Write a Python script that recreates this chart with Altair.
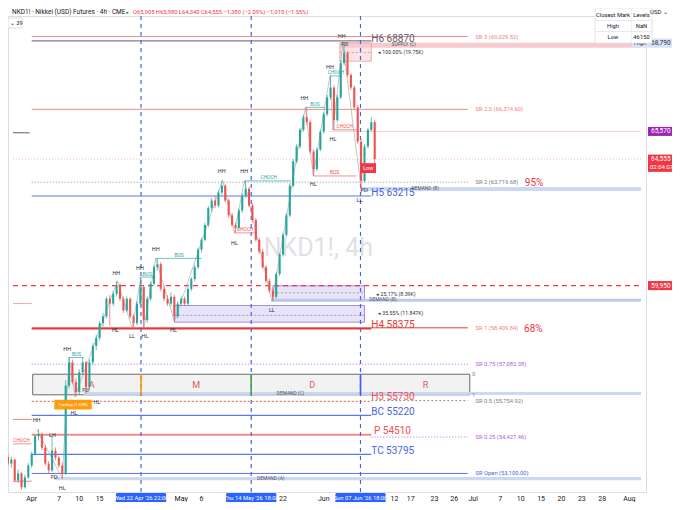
import altair as alt
import pandas as pd

# ---------------- candle data: NKD1! (condensed to 2 bars per trading day) ----------------
# x unit = trading days counted from Wed 1 Apr 2026 (weekends skipped like the chart's time scale)
bar_first_day = -3.5
bar_days_step = 0.5
opens = [53700, 53460, 53600, 52850, 53100, 52600, 52960, 53390, 53820, 54460,
         54530, 54040, 53460, 53210, 53930, 53680, 53390, 53100, 56300, 57150,
         56430, 56070, 56790, 57150, 56250, 57150, 57750, 58040, 58580, 58830,
         59470, 59290, 59650, 59970, 59470, 59040, 59470, 58830, 58580, 59290,
         59900, 58690, 59470, 60010, 60620, 60730, 59830, 59470, 59290, 59540,
         58830, 59290, 59470, 59290, 59830, 60190, 60620, 61260, 61620, 62160,
         62770, 63050, 62870, 63340, 63590, 63050, 62510, 62160, 62050, 62690,
         63230, 63480, 62870, 62340, 61620, 61190, 60620, 60120, 59760, 59540,
         60370, 61080, 61800, 62510, 63590, 64480, 65020, 65630, 66090, 65910,
         64840, 64200, 64910, 65560, 66200, 66810, 67170, 65980, 66810, 68060,
         68420, 67630, 67170, 66450, 65200, 63770, 65020, 65630, 65905]
highs = [53800, 53700, 53650, 53250, 53150, 53050, 53480, 53900, 54520, 54714,
         54600, 54150, 53550, 54460, 54050, 53750, 53500, 56500, 57330, 57250,
         56550, 56900, 57330, 57200, 57250, 57850, 58150, 58650, 58950, 59550,
         59600, 59750, 60120, 60050, 59550, 59560, 59520, 58900, 59380, 60260,
         59950, 59560, 60100, 60700, 60940, 60800, 59950, 59600, 59700, 59620,
         59380, 59560, 59550, 59900, 60260, 60700, 61330, 61700, 62250, 62850,
         63150, 63200, 63420, 63770, 63650, 63120, 62600, 62250, 62760, 63300,
         63770, 63550, 62950, 62420, 61700, 61280, 60700, 60200, 59850, 60450,
         61150, 61880, 62600, 63680, 64560, 65100, 65700, 66180, 66450, 66000,
         64920, 64980, 65640, 66280, 66900, 67600, 67250, 66900, 68150, 68790,
         68500, 67700, 67250, 66530, 65300, 65100, 65700, 66090, 65980]
lows = [53350, 53300, 52780, 52750, 52500, 52550, 52900, 53300, 53750, 54300,
        53950, 53380, 53100, 53150, 53580, 53300, 52900, 53050, 56200, 56350,
        55900, 55980, 56700, 56000, 56150, 57050, 57600, 57950, 58450, 58750,
        58500, 59200, 59550, 59380, 58950, 58980, 58750, 58400, 58500, 59200,
        58400, 58600, 59400, 59950, 60500, 59750, 59380, 59200, 59200, 58650,
        58750, 59200, 59200, 59220, 59750, 60100, 60550, 61150, 61550, 62080,
        62650, 62780, 62800, 63250, 62980, 62420, 62080, 61870, 61980, 62600,
        63150, 62800, 62250, 61550, 61100, 60550, 60050, 59680, 59370, 59480,
        60300, 61000, 61720, 62450, 63520, 64400, 64950, 65550, 65800, 64760,
        63950, 64120, 64850, 65480, 66120, 66720, 65630, 65900, 66750, 67980,
        67550, 67080, 66380, 65120, 63300, 63700, 64950, 65550, 64340]
closes = [53460, 53600, 52850, 53100, 52600, 52960, 53390, 53820, 54460, 54530,
          54040, 53460, 53210, 53930, 53680, 53390, 53100, 56300, 57150, 56430,
          56070, 56790, 57150, 56250, 57150, 57750, 58040, 58580, 58830, 59470,
          59290, 59650, 59970, 59470, 59040, 59470, 58830, 58580, 59290, 59900,
          58690, 59470, 60010, 60620, 60730, 59830, 59470, 59290, 59540, 58830,
          59290, 59470, 59290, 59830, 60190, 60620, 61260, 61620, 62160, 62770,
          63050, 62870, 63340, 63590, 63050, 62510, 62160, 62050, 62690, 63230,
          63480, 62870, 62340, 61620, 61190, 60620, 60120, 59760, 59540, 60370,
          61080, 61800, 62510, 63590, 64480, 65020, 65630, 66090, 65910, 64840,
          64200, 64910, 65560, 66200, 66810, 67170, 65980, 66810, 68060, 68420,
          67630, 67170, 66450, 65200, 63770, 65020, 65630, 65905, 64555]

# ---------------- time axis ----------------
tick_days = [0, 4, 7, 10, 22, 25, 37, 43, 53.4, 55.8, 59.3, 62.2, 65, 69, 72, 75, 78, 81, 84, 88]
tick_labels = ['Apr', '7', '10', '15', 'May', '6', '22', 'Jun', '12', '17', '23', '26',
               'Jul', '7', '10', '15', '20', '23', '28', 'Aug']
marker_days = [16.09, 32.32, 48.41]
marker_labels = ["Wed 22 Apr '26   22:00", "Thu 14 May '26   18:00", "Sun 07 Jun '26   18:00"]

# ---------------- market structure ----------------
swing_days = [0.72, 4.49, 5.51, 6.38, 12.61, 14.78, 16.09, 16.52, 18.26, 21.01,
              28.12, 29.86, 31.3, 35.36, 40.29, 41.45, 43.91, 44.35, 45.8, 48.55]
swing_prices = [54714, 52925, 57326, 55895, 60117, 58400, 60260, 58400, 60940, 58650,
                63802, 61870, 63767, 59366, 66450, 63946, 67595, 65627, 68776, 63409]
struct_labels = ['HH', 'LH', 'HL', 'HH', 'HL', 'HL', 'HH', 'HL', 'LL', 'HH', 'HL', 'HH', 'HL',
                 'HH', 'HL', 'HH', 'LL', 'HH', 'HL', 'HH', 'HL', 'HH', 'LL']
struct_days = [0.72, 3.04, 4.49, 5.22, 6.23, 9.6, 12.46, 12.32, 14.78, 15.94, 16.67, 18.26, 20.87,
               27.97, 29.86, 31.3, 35.36, 40.14, 41.45, 43.91, 44.35, 45.65, 48.26]
struct_prices = [55036, 54500, 52568, 57648, 55300, 55720, 60404, 58328, 58113, 60582, 58113, 61298, 58328,
                 64124, 61513, 64124, 59044, 66772, 63659, 67917, 65305, 69062, 63087]
brk_labels = ['CHOCH', 'BOS', 'BOS', 'BOS', 'CHOCH', 'CHOCH', 'BOS', 'CHOCH', 'CHOCH', 'BOS']
brk_start = [-2.754, 5.51, 16.09, 18.26, 29.86, 31.3, 40.29, 43.91, 44.35, 41.45]
brk_end = [0.0, 7.68, 18.26, 25.07, 33.04, 38.12, 43.2, 45.4, 48.0, 47.8]
brk_prices = [54178, 57326, 60260, 60940, 61870, 63767, 66450, 67595, 65627, 63946]
brk_label_days = [-1.5, 6.6, 17.0, 21.7, 31.4, 34.9, 41.7, 44.8, 46.1, 44.6]
brk_bull = [False, True, True, True, False, True, True, True, False, False]

# ---------------- levels ----------------
levels = {'SR 3': 69029.52, 'H6': 68870, 'SR 2.5': 66374.60, 'SR 2': 63719.68, 'H5': 63215,
          'SR 1': 58409.84, 'H4': 58375, 'SR 0.75': 57082.38, 'H3': 55730, 'SR 0.5': 55754.92,
          'BC': 55220, 'P': 54510, 'SR 0.25': 54427.46, 'TC': 53795, 'SR Open': 53100}
last_price = 64555
indicator_price = 65570
alert_price = 59950
high_mark = 68790

# ---------------- scales ----------------
X0, X1 = -2.754, 89.71
P_LO, P_HI = 52424, 69778
W, H = 638, 476
xs = alt.Scale(domain=[X0, X1], nice=False, zero=False)
ys = alt.Scale(domain=[P_LO, P_HI], nice=False, zero=False)
FONT = 'Roboto'


def X(f='d'):
    return alt.X(f'{f}:Q', scale=xs, axis=None)


def Y(f='p'):
    return alt.Y(f'{f}:Q', scale=ys, axis=None)


def hline(price, d0, d1, color, width=1.0, dash=None, opacity=1.0):
    kw = dict(color=color, strokeWidth=width, opacity=opacity)
    if dash:
        kw['strokeDash'] = dash
    df = pd.DataFrame({'p': [price], 'd0': [d0], 'd1': [d1]})
    return alt.Chart(df).mark_rule(**kw).encode(x=X('d0'), x2='d1:Q', y=Y('p'))


def vseg(day, p0, p1, color, width=1.0, dash=None):
    kw = dict(color=color, strokeWidth=width)
    if dash:
        kw['strokeDash'] = dash
    df = pd.DataFrame({'d': [day], 'p0': [p0], 'p1': [p1]})
    return alt.Chart(df).mark_rule(**kw).encode(x=X('d'), y=Y('p0'), y2='p1:Q')


def box(d0, d1, p0, p1, fill, opacity=1.0, stroke=None, sw=1.0):
    kw = dict(fill=fill, fillOpacity=opacity)
    if stroke:
        kw['stroke'] = stroke
        kw['strokeWidth'] = sw
    df = pd.DataFrame({'d0': [d0], 'd1': [d1], 'p0': [p0], 'p1': [p1]})
    return alt.Chart(df).mark_rect(**kw).encode(x=X('d0'), x2='d1:Q', y=Y('p0'), y2='p1:Q')


def dtext(s, d, p, **kw):
    kw.setdefault('font', FONT)
    df = pd.DataFrame({'s': [s], 'd': [d], 'p': [p]})
    return alt.Chart(df).mark_text(**kw).encode(x=X('d'), y=Y('p'), text='s:N')


def ptext(s, px, py, **kw):
    kw.setdefault('font', FONT)
    df = pd.DataFrame({'s': [s]})
    return alt.Chart(df).mark_text(**kw).encode(x=alt.value(px), y=alt.value(py), text='s:N')


def prect(x0, x1, y0, y1, fill, stroke=None, sw=1.0, opacity=1.0):
    kw = dict(fill=fill, fillOpacity=opacity)
    if stroke:
        kw['stroke'] = stroke
        kw['strokeWidth'] = sw
    df = pd.DataFrame({'k': [0]})
    return alt.Chart(df).mark_rect(**kw).encode(
        x=alt.value(x0), x2=alt.value(x1), y=alt.value(y0), y2=alt.value(y1))


def ptag(price, half_up, half_down, x0, x1, fill):
    df = pd.DataFrame({'a': [price + half_up], 'b': [price - half_down]})
    return alt.Chart(df).mark_rect(fill=fill).encode(
        x=alt.value(x0), x2=alt.value(x1), y=Y('a'), y2='b:Q')


def ptag_text(s, price, px, color, size=6.5, **kw):
    df = pd.DataFrame({'s': [s], 'p': [price]})
    return alt.Chart(df).mark_text(font=FONT, fontSize=size, color=color, **kw).encode(
        x=alt.value(px), y=Y('p'), text='s:N')


bars = pd.DataFrame({'d': [bar_first_day + bar_days_step * i for i in range(len(closes))],
                     'o': opens, 'h': highs, 'l': lows, 'c': closes})

x_axis = alt.Axis(values=tick_days, labels=False, grid=True, gridColor='#eef1f6',
                  domain=True, domainColor='#e0e3eb', ticks=False, title=None)
y_axis = alt.Axis(orient='right', values=list(range(52500, 70000, 500)), format=',', grid=True,
                  gridColor='#eef1f6', domain=False, ticks=False, labelFontSize=7,
                  labelColor='#131722', labelPadding=4, labelOverlap=False, labelFlush=False,
                  title=None, labelFont=FONT)

L = []
# axis carrier
L.append(alt.Chart(bars).mark_point(opacity=0).encode(
    x=alt.X('d:Q', scale=xs, axis=x_axis), y=alt.Y('l:Q', scale=ys, axis=y_axis)))
# watermark
L.append(dtext('NKD1!, 4h', 42.2, 61334, fontSize=25, color='#dfe1e6'))

# zones
L.append(box(45.36, X1, 68620, 68800, '#f5c1c6', 0.85))
L.append(box(45.36, 50.0, 68130, 68800, '#f7c9cd', 0.5, '#ef9a9a', 0.8))
L.append(hline(68450, 45.36, 50.0, '#e57373', 0.7, [2, 2]))
L.append(box(48.55, X1, 63400, 63540, '#c6d5f4', 0.9))
L.append(box(35.5, 49.0, 59400, 59940, '#d6cdf0', 0.55, '#9575cd', 0.8))
L.append(hline(59688, 35.5, 49.0, '#9575cd', 0.7, [2, 2]))
L.append(box(21.0, 49.0, 58615, 59223, '#d6cdf0', 0.55, '#9575cd', 0.8))
L.append(hline(58865, 21.0, 49.0, '#9575cd', 0.7, [2, 2]))
L.append(box(35.5, X1, 59360, 59470, '#b7c8f1', 0.95))
L.append(box(0.145, 64.5, 55967, 56718, '#ebebeb', 0.65, '#6b6b6b', 1.0))
L.append(box(7.68, X1, 55956, 56074, '#c6d5f4', 0.9))
L.append(box(3.33, X1, 52854, 52972, '#c6d5f4', 0.9))

# level lines
L.append(hline(levels['SR 3'], 0, 64.2, '#ef8a8a', 1.0))
L.append(hline(levels['H6'], 0, 50.0, '#5d606b', 1.0))
L.append(hline(levels['SR 2.5'], 0, 64.2, '#ef8a8a', 1.0))
L.append(hline(indicator_price, 43.9, X1, '#f5c6c6', 0.8))
L.append(hline(last_price, X0, X1, '#f6b3b3', 0.8, [1, 2]))
L.append(hline(levels['SR 2'], 0, 64.2, '#8a8d96', 1.0, [1, 2]))
L.append(hline(levels['H5'], 0, 50.0, '#5b78ea', 1.2))
L.append(hline(alert_price, X0, X1, '#f23645', 1.2, [5, 4]))
L.append(hline(levels['SR 1'], 0, 64.2, '#e53935', 1.0))
L.append(hline(levels['H4'], 0, 50.0, '#e53935', 1.4))
L.append(hline(levels['SR 0.75'], 0, 64.2, '#b466d8', 1.0, [1, 2]))
L.append(hline(levels['H3'], 0, 50.0, '#f05050', 1.0, [2, 2]))
L.append(hline(levels['SR 0.5'], 50.0, 64.2, '#8a8d96', 1.0, [2, 2]))
L.append(hline(levels['BC'], 0, 50.0, '#5b78ea', 1.2))
L.append(hline(levels['P'], 0, 50.0, '#f08c8c', 2.0))
L.append(hline(levels['SR 0.25'], 50.0, 64.2, '#b466d8', 1.0, [1, 2]))
L.append(hline(levels['TC'], 0, 50.0, '#5b78ea', 1.2))
L.append(hline(levels['SR Open'], 0, 64.2, '#5b78ea', 1.0))
# previous-period stubs at left edge
L.append(hline(65520, X0, -0.3, '#5d606b', 1.0))
L.append(hline(59294, X0, 0.0, '#f4a6a6', 1.0))
L.append(hline(55072, X0, 0.0, '#ef7f7f', 1.0))
L.append(hline(52818, X0, 0.0, '#ef7f7f', 1.0))

# vertical session markers
mk = pd.DataFrame({'d': marker_days, 's': marker_labels,
                   'a': [d - 3.7 for d in marker_days], 'b': [d + 3.7 for d in marker_days]})
L.append(alt.Chart(mk).mark_rule(color='#4a63e0', strokeWidth=1.2, strokeDash=[4, 4]).encode(x=X('d')))
L.append(vseg(marker_days[0], 55967, 56718, '#ff9800', 1.6))
L.append(vseg(marker_days[1], 55967, 56718, '#43a047', 1.6))
L.append(vseg(marker_days[2], 55967, 56718, '#3d5afe', 1.6))

# zigzag
zz = pd.DataFrame({'d': swing_days, 'p': swing_prices})
L.append(alt.Chart(zz).mark_line(color='#9aa0aa', strokeWidth=0.8, opacity=0.75).encode(x=X(), y=Y()))

# BOS / CHOCH
brk = pd.DataFrame({'s': brk_labels, 'd0': brk_start, 'd1': brk_end, 'p': brk_prices,
                    'dl': brk_label_days, 'bull': brk_bull})
bcol = alt.condition('datum.bull', alt.value('#26a69a'), alt.value('#ef5350'))
L.append(alt.Chart(brk).mark_rule(strokeWidth=0.8, opacity=0.8).encode(
    x=X('d0'), x2='d1:Q', y=Y('p'), color=bcol))
L.append(alt.Chart(brk).mark_text(font=FONT, fontSize=4.8, baseline='bottom', dy=-0.5).encode(
    x=X('dl'), y=Y('p'), text='s:N', color=bcol))

# candles
up = alt.condition('datum.c >= datum.o', alt.value('#26a69a'), alt.value('#ef5350'))
L.append(alt.Chart(bars).mark_rule(strokeWidth=0.7).encode(x=X(), y=Y('l'), y2='h:Q', color=up))
L.append(alt.Chart(bars).mark_bar(size=2.1).encode(x=X(), y=Y('o'), y2='c:Q', color=up))

# structure labels
st = pd.DataFrame({'s': struct_labels, 'd': struct_days, 'p': struct_prices})
L.append(alt.Chart(st).mark_text(font=FONT, fontSize=5.5, color='#2a2e39').encode(
    x=X(), y=Y(), text='s:N'))
for s, d, p in [('PDI', 3.33, 52925), ('PDI', 7.97, 56110), ('PDI', 46.1, 68704), ('PDI', 49.0, 63409)]:
    L.append(dtext(s, d, p, fontSize=4.5, color='#2a2e39'))

# level labels
big = dict(fontSize=10, align='left')
L.append(dtext('H6 68870', 50.0, 68955, color='#5d606b', **big))
L.append(dtext('H5 63215', 50.0, 63330, color='#4a63e0', **big))
L.append(dtext('H4 58375', 50.0, 58507, color='#e53935', **big))
L.append(dtext('H3 55730', 50.0, 55880, color='#f05050', **big))
L.append(dtext('BC 55220', 50.0, 55358, color='#4a63e0', **big))
L.append(dtext('P 54510', 50.4, 54643, color='#f05050', **big))
L.append(dtext('TC 53795', 50.0, 53927, color='#4a63e0', **big))
sm = dict(fontSize=5.8, align='left')
L.append(dtext('SR 3 (69,029.52)', 65.36, levels['SR 3'], color='#ef7f7f', **sm))
L.append(dtext('SR 2.5 (66,374.60)', 65.36, levels['SR 2.5'], color='#ef7f7f', **sm))
L.append(dtext('SR 2 (63,719.68)', 65.36, levels['SR 2'], color='#787b86', **sm))
L.append(dtext('SR 1 (58,409.84)', 65.36, levels['SR 1'], color='#ef7f7f', **sm))
L.append(dtext('SR 0.75 (57,082.38)', 65.36, levels['SR 0.75'], color='#b05ed8', **sm))
L.append(dtext('SR 0.5 (55,754.92)', 65.36, levels['SR 0.5'], color='#787b86', **sm))
L.append(dtext('SR 0.25 (54,427.46)', 65.36, levels['SR 0.25'], color='#b05ed8', **sm))
L.append(dtext('SR Open (53,100.00)', 65.36, levels['SR Open'], color='#4a63e0', **sm))
L.append(dtext('95%', 72.6, 63690, fontSize=10, align='left', color='#f23645'))
L.append(dtext('68%', 72.5, 58380, fontSize=10, align='left', color='#f23645'))
for s, d, p in [('A', 8.84, 56343), ('M', 24.2, 56343), ('D', 41.3, 56343), ('R', 57.97, 56343)]:
    L.append(dtext(s, d, p, fontSize=9, color='#e05a5a'))
L.append(dtext('0', 65.07, 56718, fontSize=5, color='#787b86'))
L.append(dtext('1', 65.07, 55967, fontSize=5, color='#787b86'))

# zone labels
z = dict(fontSize=4.8, color='#50535e')
L.append(dtext('SUPPLY (C)', 54.78, 68704, **z))
L.append(dtext('DEMAND (B)', 55.94, 63470, align='left', **z))
L.append(dtext('DEMAND (B)', 49.7, 59415, align='left', **z))
L.append(dtext('DEMAND (C)', 38.1, 56015, **z))
L.append(dtext('DEMAND (A)', 35.2, 52913, **z))
L.append(dtext('◂ 100.00% (19.75K)', 51.0, 68454, fontSize=5.2, align='left', color='#2a2e39'))
L.append(dtext('◂ 25.17% (8.39K)', 50.72, 59652, fontSize=5.2, align='left', color='#2a2e39'))
L.append(dtext('◂ 35.55% (11.847K)', 51.0, 58936, fontSize=5.2, align='left', color='#2a2e39'))

# small tags on the chart
L.append(box(48.4, 50.7, 64053, 64411, '#f23645', 1.0))
L.append(dtext('Low', 49.55, 64232, fontSize=5.5, color='white'))
L.append(box(3.33, 8.84, 55430, 55788, '#ff9800', 0.95))
L.append(dtext('Trading (1.59K)', 6.09, 55609, fontSize=4.3, color='white'))

# time-axis labels and highlight boxes
tk = pd.DataFrame({'d': tick_days, 's': tick_labels})
L.append(alt.Chart(tk).mark_text(font=FONT, fontSize=7, color='#131722').encode(
    x=X('d'), y=alt.value(482.5), text='s:N'))
L.append(alt.Chart(mk).mark_rect(fill='#2962ff', cornerRadius=1.5).encode(
    x=X('a'), x2='b:Q', y=alt.value(477), y2=alt.value(487)))
L.append(alt.Chart(mk).mark_text(font=FONT, fontSize=5.8, color='white').encode(
    x=X('d'), y=alt.value(482), text='s:N'))

# price-scale tags
L.append(ptag(high_mark, 165, 165, 624, 664, '#d9e3f7'))
L.append(ptag_text('High', high_mark, 626, '#2a2e39', 6, align='left'))
L.append(ptag_text('68,790', high_mark, 643, '#2a2e39', 6.5, align='left'))
L.append(ptag(indicator_price, 165, 165, 640, 664, '#9c27b0'))
L.append(ptag_text('65,570', indicator_price, 643, 'white', 6.5, align='left'))
L.append(ptag(last_price, 170, 460, 640, 664, '#f23645'))
L.append(ptag_text('64,555', last_price, 643, 'white', 6.5, align='left'))
L.append(ptag_text('02:04:07', last_price - 290, 642, 'white', 6, align='left'))
L.append(ptag(alert_price, 165, 165, 640, 664, '#f23645'))
L.append(ptag_text('59,950', alert_price, 643, 'white', 6.5, align='left'))

# header
L.append(ptext('NKD1! · Nikkei (USD) Futures · 4h · CME', 4, -4, fontSize=6.5, align='left', color='#131722'))
L.append(ptext('●', 119, -4, fontSize=5, color='#089981'))
L.append(ptext('O65,905  H65,980  L64,340  C64,555  −1,380 (−2.09%)   −1,015 (−1.55%)', 125, -4,
               fontSize=5.8, align='left', color='#f23645'))
L.append(prect(0, 14, 2, 12, 'white', '#d1d4dc', 0.8))
L.append(ptext('⌄ 39', 2, 7, fontSize=5.5, align='left', color='#131722'))
# levels table
L.append(prect(587, 644, -8, 27, 'white', '#e0e3eb', 0.8))
L.append(prect(587, 644, 4.5, 15.5, 'white', '#e0e3eb', 0.8))
L.append(prect(623, 623.5, -8, 27, '#e0e3eb'))
for s, px, py in [('Closest Mark', 605, -1.5), ('Levels', 633.5, -1.5), ('High', 605, 10), ('NaN', 633.5, 10),
                  ('Low', 605, 21), ('46150', 633.5, 21)]:
    L.append(ptext(s, px, py, fontSize=5.8, color='#131722'))
L.append(ptext('USD  ⌄', 642, -4, fontSize=6, align='left', color='#131722'))

chart = alt.layer(*L).properties(
    width=W, height=H, autosize='none',
    padding={'left': 0, 'top': 8, 'right': 26, 'bottom': 10},
    background='white'
).configure_view(stroke=None).configure(font=FONT)

chart.save('out.html', embed_options={'renderer': 'svg', 'actions': False})
